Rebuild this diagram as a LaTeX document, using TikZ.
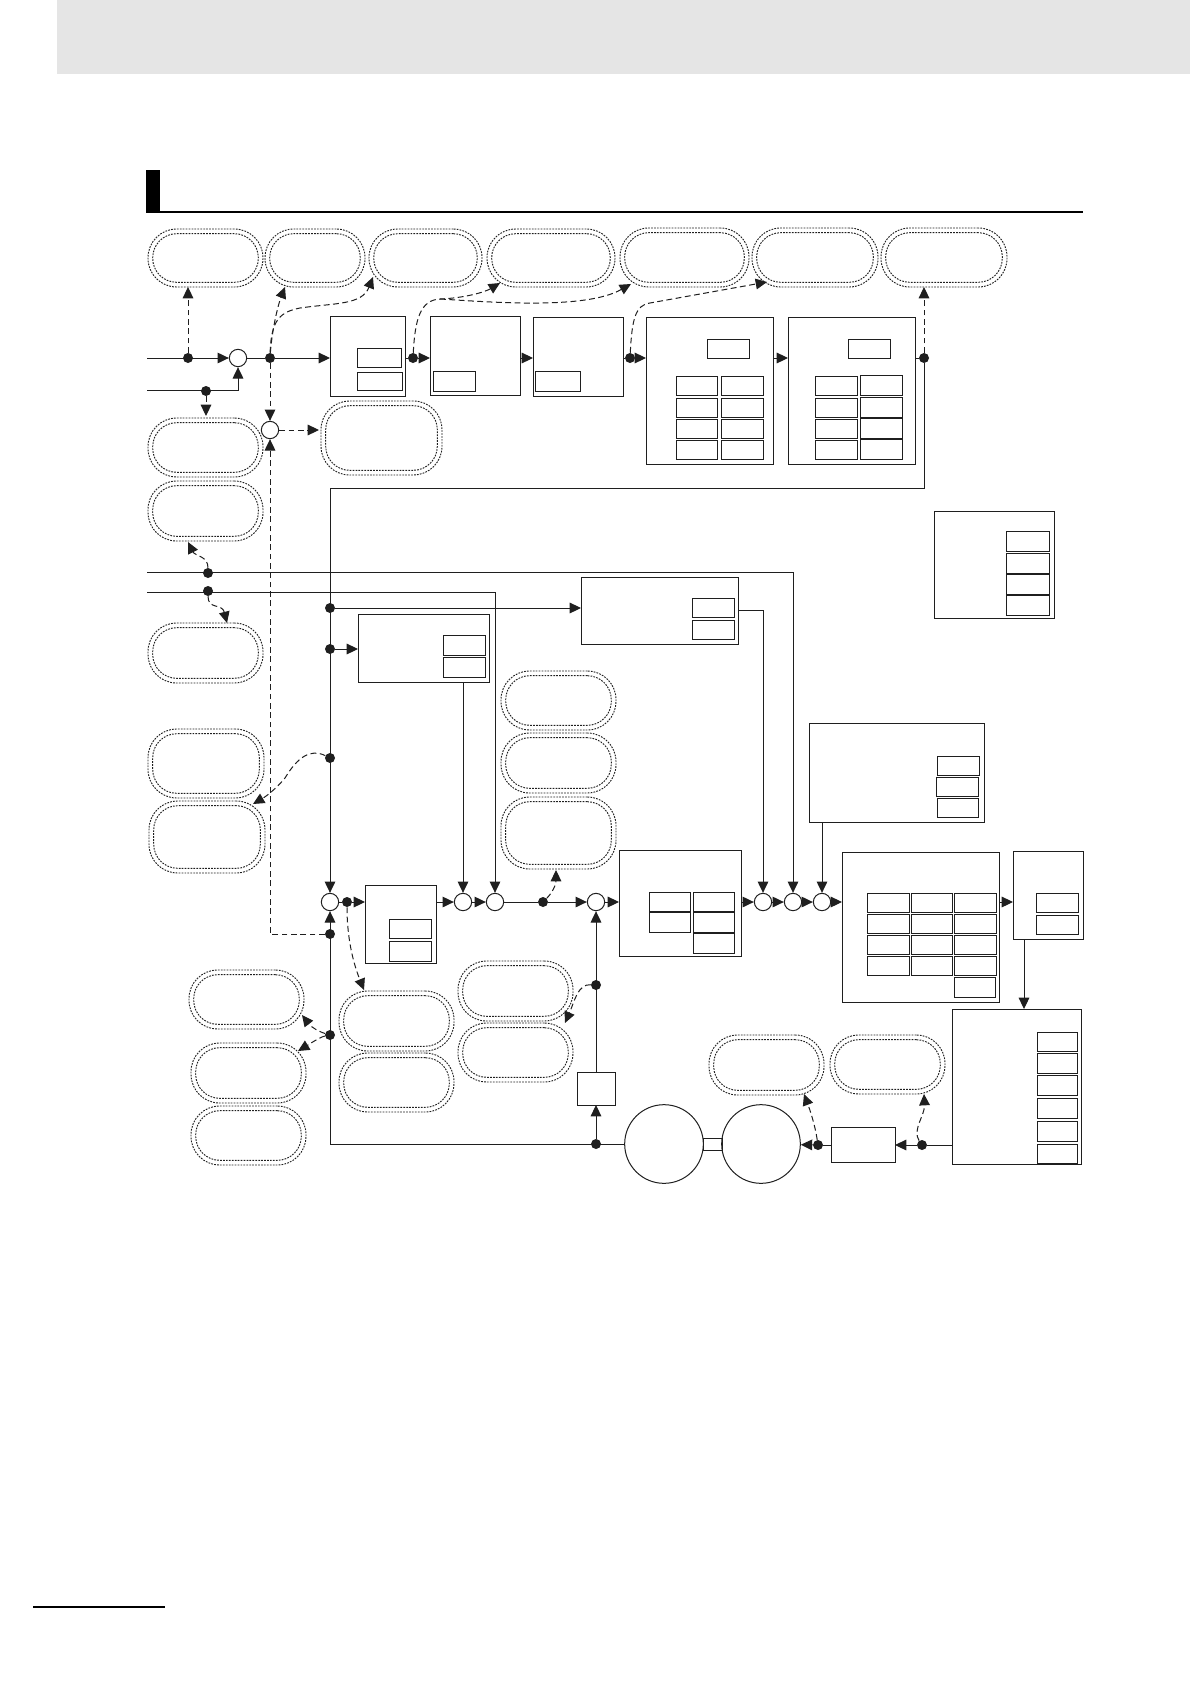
\documentclass[tikz,border=0pt]{standalone}
\usepackage{xcolor}
\usepackage{tikz}
\usetikzlibrary{arrows.meta,fit}

\definecolor{inkline}{gray}{0.12}
\definecolor{headband}{gray}{0.9}

\tikzset{
	blockbox/.style={draw=inkline, line width=.75pt, inner sep=0pt, outer sep=0pt},
	subbox/.style={blockbox, line width=.7pt},
	pillout/.style={draw=inkline, line width=.7pt, dash pattern=on 1.3pt off .9pt, inner sep=0pt, outer sep=0pt, rounded corners=21.5pt},
	pillin/.style={pillout, rounded corners=18pt},
	dotnode/.style={circle, fill=inkline, inner sep=0pt, minimum size=7.5pt},
	sumnode/.style={circle, draw=inkline, fill=white, line width=.75pt, inner sep=0pt, minimum size=13pt},
	motornode/.style={circle, draw=inkline, line width=.75pt, inner sep=0pt, minimum size=59pt},
	wire/.style={draw=inkline, line width=.75pt},
	flow/.style={wire, -{Triangle[length=8.5pt,width=8pt]}},
	sig/.style={flow, dash pattern=on 4.4pt off 2.6pt},
}

\newcommand{\pillbox}[5]{
	\node[pillout, fit={(#2,#3)(#4,#5)}] (#1) {};
	\node[pillin, fit={(#2+4.7,#3+4.7)(#4-4.7,#5-4.7)}] (#1i) {};
}

\begin{document}
\begin{tikzpicture}[x=.75pt,y=-.75pt]
	\useasboundingbox (0,0) rectangle (1190,1684);

	% page furniture
	\fill[headband] (57,0) rectangle (1190,74);
	\fill[black] (146,170) rectangle (160,212);
	\draw[black, line width=1.5pt] (146,211.5) -- (1083,211.5);
	\draw[black, line width=1.5pt] (33,1607) -- (165,1607);

	% dotted pills
	\pillbox{pa}{148}{229}{263}{287}
	\pillbox{pb}{265}{229}{365}{287}
	\pillbox{pc}{369}{229}{482}{287}
	\pillbox{pd}{487}{229}{615}{287}
	\pillbox{pe}{620}{228}{749}{287}
	\pillbox{pf}{752}{228}{878}{287}
	\pillbox{pg}{881}{228}{1007}{287}
	\pillbox{ph}{148}{418}{263}{477}
	\pillbox{pi}{148}{481}{263}{541}
	\pillbox{pj}{321}{401}{442}{475}
	\pillbox{pk}{148}{623}{263}{683}
	\pillbox{pl}{148}{729}{264}{798}
	\pillbox{pm}{149}{801}{265}{873}
	\pillbox{pn}{501}{671}{616}{730}
	\pillbox{po}{501}{733}{616}{793}
	\pillbox{pp}{501}{797}{616}{869}
	\pillbox{pq}{189}{970}{304}{1029}
	\pillbox{pr}{191}{1043}{306}{1103}
	\pillbox{ps}{191}{1106}{306}{1165}
	\pillbox{pt}{339}{991}{454}{1051}
	\pillbox{pu}{339}{1053}{454}{1112}
	\pillbox{pv}{458}{961}{573}{1021}
	\pillbox{pw}{458}{1023}{573}{1082}
	\pillbox{px}{709}{1035}{824}{1095}
	\pillbox{py}{830}{1035}{945}{1094}

	% blocks, upper row
	\node[blockbox, fit={(330,316)(405,396)}] (ba) {};
	\node[subbox, fit={(357,348)(401,367)}] (baa) {};
	\node[subbox, fit={(357,372)(402,390)}] (bab) {};
	\node[blockbox, fit={(430,316)(520,395)}] (bb) {};
	\node[subbox, fit={(433,371)(475,391)}] (bba) {};
	\node[blockbox, fit={(533,317)(623,396)}] (bc) {};
	\node[subbox, fit={(535,371)(580,391)}] (bca) {};
	\node[blockbox, fit={(646,317)(773,464)}] (bd) {};
	\node[subbox, fit={(707,339)(749,358)}] (bdt) {};
	\foreach \r/\ya/\yb in {1/376/395,2/398/417,3/419/438,4/440/459} {
		\node[subbox, fit={(676,\ya)(717,\yb)}] (bdl\r) {};
		\node[subbox, fit={(721,\ya)(763,\yb)}] (bdr\r) {};
	}
	\node[blockbox, fit={(788,317)(915,464)}] (be) {};
	\node[subbox, fit={(848,339)(890,358)}] (bet) {};
	\foreach \r/\ya/\yb in {1/376/395,2/398/417,3/419/438,4/440/459} {
		\node[subbox, fit={(815,\ya)(857,\yb)}] (bel\r) {};
		\node[subbox, fit={(860,\ya-1)(902,\yb)}] (ber\r) {};
	}

	% free standing block
	\node[blockbox, fit={(934,511)(1054,618)}] (bf) {};
	\foreach \r/\ya/\yb in {1/531/551,2/553/573,3/574/594,4/595/615} {
		\node[subbox, fit={(1006,\ya)(1049,\yb)}] (bf\r) {};
	}

	% blocks, middle
	\node[blockbox, fit={(581,577)(738,644)}] (bg) {};
	\node[subbox, fit={(692,598)(734,617)}] (bga) {};
	\node[subbox, fit={(692,620)(734,639)}] (bgb) {};
	\node[blockbox, fit={(358,614)(489,682)}] (bh) {};
	\node[subbox, fit={(443,635)(485,655)}] (bha) {};
	\node[subbox, fit={(443,657)(485,677)}] (bhb) {};
	\node[blockbox, fit={(809,723)(984,822)}] (bi) {};
	\node[subbox, fit={(937,756)(979,775)}] (bia) {};
	\node[subbox, fit={(936,777)(978,796)}] (bib) {};
	\node[subbox, fit={(937,798)(978,817)}] (bic) {};

	% blocks, forward path
	\node[blockbox, fit={(365,885)(436,963)}] (bj) {};
	\node[subbox, fit={(389,919)(431,938)}] (bja) {};
	\node[subbox, fit={(389,941)(431,961)}] (bjb) {};
	\node[blockbox, fit={(619,850)(741,956)}] (bk) {};
	\node[subbox, fit={(649,892)(690,911)}] (bka) {};
	\node[subbox, fit={(649,912)(690,932)}] (bkb) {};
	\node[subbox, fit={(693,892)(734,911)}] (bkc) {};
	\node[subbox, fit={(693,912)(734,932)}] (bkd) {};
	\node[subbox, fit={(693,933)(734,953)}] (bke) {};
	\node[blockbox, fit={(842,852)(999,1002)}] (bl) {};
	\foreach \r/\ya/\yb in {1/893/912,2/914/933,3/935/954,4/956/975} {
		\node[subbox, fit={(867,\ya)(909,\yb)}] (bll\r) {};
		\node[subbox, fit={(911,\ya)(952,\yb)}] (blm\r) {};
		\node[subbox, fit={(954,\ya)(996,\yb)}] (blr\r) {};
	}
	\node[subbox, fit={(954,977)(995,997)}] (blr5) {};
	\node[blockbox, fit={(1013,851)(1083,939)}] (bm) {};
	\node[subbox, fit={(1036,893)(1078,912)}] (bma) {};
	\node[subbox, fit={(1036,915)(1078,934)}] (bmb) {};
	\node[blockbox, fit={(952,1009)(1081,1164)}] (bn) {};
	\foreach \r/\ya/\yb in {1/1032/1051,2/1053/1073,3/1075/1095,4/1098/1118,5/1121/1141,6/1144/1163} {
		\node[subbox, fit={(1037,\ya)(1077,\yb)}] (bn\r) {};
	}
	\node[blockbox, fit={(831,1127)(895,1162)}] (bo) {};
	\node[blockbox, fit={(577,1072)(615,1105)}] (bp) {};

	% motor pair
	\node[motornode] (motl) at (664,1144) {};
	\node[motornode] (motr) at (761,1144) {};
	\node[blockbox, fit={(703,1138)(722,1150)}] (shaft) {};

	% sum points
	\node[sumnode] (sa) at (238,358) {};
	\node[sumnode] (sb) at (270,430) {};
	\node[sumnode] (sc) at (330,902) {};
	\node[sumnode] (sd) at (463,902) {};
	\node[sumnode] (se) at (495,902) {};
	\node[sumnode] (sf) at (596,902) {};
	\node[sumnode] (sg) at (763,902) {};
	\node[sumnode] (sh) at (793,902) {};
	\node[sumnode] (si) at (822,902) {};

	% branch points
	\node[dotnode] (da) at (188,358) {};
	\node[dotnode] (db) at (206,391) {};
	\node[dotnode] (dc) at (270,358) {};
	\node[dotnode] (dd) at (413,358) {};
	\node[dotnode] (de) at (630,358) {};
	\node[dotnode] (df) at (924,358) {};
	\node[dotnode] (dg) at (208,573) {};
	\node[dotnode] (dh) at (208,591) {};
	\node[dotnode] (di) at (330,608) {};
	\node[dotnode] (dj) at (330,649) {};
	\node[dotnode] (dk) at (330,758) {};
	\node[dotnode] (dl) at (330,934) {};
	\node[dotnode] (dm) at (330,1035) {};
	\node[dotnode] (dn) at (347,902) {};
	\node[dotnode] (dp) at (543,902) {};
	\node[dotnode] (dq) at (596,985) {};
	\node[dotnode] (dr) at (596,1144) {};
	\node[dotnode] (ds) at (818,1145) {};
	\node[dotnode] (dt) at (922,1145) {};

	% free ends and bends
	\coordinate (ina) at (147,358);
	\coordinate (inb) at (147,390);
	\coordinate (inc) at (147,572);
	\coordinate (ind) at (147,592);
	\coordinate (fbturn) at (924,488);
	\coordinate (bendd) at (440,299);
	\coordinate (bnin) at (1024,1009);

	% solid lines, upper row
	\draw[flow] (ina) -- (sa);
	\draw[flow] (inb) -| (sa);
	\draw[wire] (sa) -- (dc);
	\draw[flow] (dc) -- (ba.west |- dc);
	\draw[wire] (ba.east |- dd) -- (dd);
	\draw[flow] (dd) -- (bb.west |- dd);
	\draw[flow] (bb.east |- dd) -- (bc.west |- dd);
	\draw[wire] (bc.east |- de) -- (de);
	\draw[flow] (de) -- (bd.west |- de);
	\draw[flow] (bd.east |- de) -- (be.west |- de);
	\draw[wire] (be.east |- df) -- (df);

	% solid lines, feedback and inputs
	\draw[flow] (df) -- (fbturn) -| (sc);
	\draw[flow] (inc) -| (sh);
	\draw[flow] (ind) -| (se);
	\draw[flow] (di) -- (bg.west |- di);
	\draw[flow] (dj) -- (bh.west |- dj);
	\draw[flow] (bg.east) -| (sg);
	\draw[flow] (sd |- bh.south) -- (sd);
	\draw[flow] (si |- bi.south) -- (si);

	% solid lines, forward path
	\draw[wire] (sc) -- (dn);
	\draw[flow] (dn) -- (bj.west |- dn);
	\draw[flow] (bj.east |- sd) -- (sd);
	\draw[flow] (sd) -- (se);
	\draw[wire] (se) -- (dp);
	\draw[flow] (dp) -- (sf);
	\draw[flow] (sf) -- (bk.west |- sf);
	\draw[flow] (bk.east |- sg) -- (sg);
	\draw[flow] (sg) -- (sh);
	\draw[flow] (sh) -- (si);
	\draw[flow] (si) -- (bl.west |- si);
	\draw[flow] (bl.east |- si) -- (bm.west |- si);
	\draw[flow] (bnin |- bm.south) -- (bnin);

	% solid lines, motor and encoder
	\draw[wire] (bn.west |- dt) -- (dt);
	\draw[flow] (dt) -- (bo.east |- dt);
	\draw[wire] (bo.west |- ds) -- (ds);
	\draw[flow] (ds) -- (motr);
	\draw[flow] (motl) -| (sc);
	\draw[flow] (dr) -- (bp);
	\draw[flow] (bp) -- (sf);

	% dashed signals
	\draw[sig] (da) -- ([shift={(40,0)}]pa.south west);
	\draw[sig] (db) -- ([shift={(58,-2)}]ph.north west);
	\draw[sig] (dc) .. controls (272,330) and (278,305) .. ([shift={(20,0)}]pb.south west);
	\draw[sig] (dc) .. controls (271,320) and (280,312) .. (300,308) .. controls (335,303) and (362,305) .. ([shift={(4,-10)}]pc.south west);
	\draw[sig] (dc) -- (sb);
	\draw[sig] (sb) -- ([shift={(-2,-8)}]pj.west);
	\draw[sig] (dl) -| (sb);
	\draw[sig] (dd) .. controls (415,320) and (420,300) .. (bendd) .. controls (465,298) and (485,292) .. ([shift={(13,-4)}]pd.south west);
	\draw[sig] (bendd) .. controls (490,302) and (585,310) .. ([shift={(11,-3)}]pe.south west);
	\draw[sig] (de) .. controls (632,320) and (635,305) .. (650,303) -- ([shift={(15,-5)}]pf.south west);
	\draw[sig] (df) -- ([shift={(43,0)}]pg.south west);
	\draw[sig] (dg) .. controls (208,556) and (195,556) .. ([shift={(40,1)}]pi.south west);
	\draw[sig] (dh) .. controls (208,610) and (222,603) .. ([shift={(79,0)}]pk.north west);
	\draw[sig] (dk) .. controls (310,748) and (297,758) .. (285,778) .. controls (275,790) and (265,797) .. ([shift={(-12,3)}]pm.north east);
	\draw[sig] (dp) .. controls (552,893) and (556,885) .. ([shift={(55,1)}]pp.south west);
	\draw[sig] (dn) .. controls (347,935) and (352,960) .. ([shift={(25,-1)}]pt.north west);
	\draw[sig] (dm) .. controls (320,1032) and (312,1028) .. ([shift={(-2,-14)}]pq.south east);
	\draw[sig] (dm) .. controls (320,1037) and (308,1045) .. ([shift={(-8,8)}]pr.north east);
	\draw[sig] (dq) .. controls (578,984) and (575,1000) .. ([shift={(-8,0)}]pw.north east);
	\draw[sig] (ds) .. controls (815,1125) and (810,1110) .. ([shift={(-20,-1)}]px.south east);
	\draw[sig] (dt) .. controls (912,1130) and (925,1115) .. ([shift={(-21,0)}]py.south east);
\end{tikzpicture}
\end{document}
